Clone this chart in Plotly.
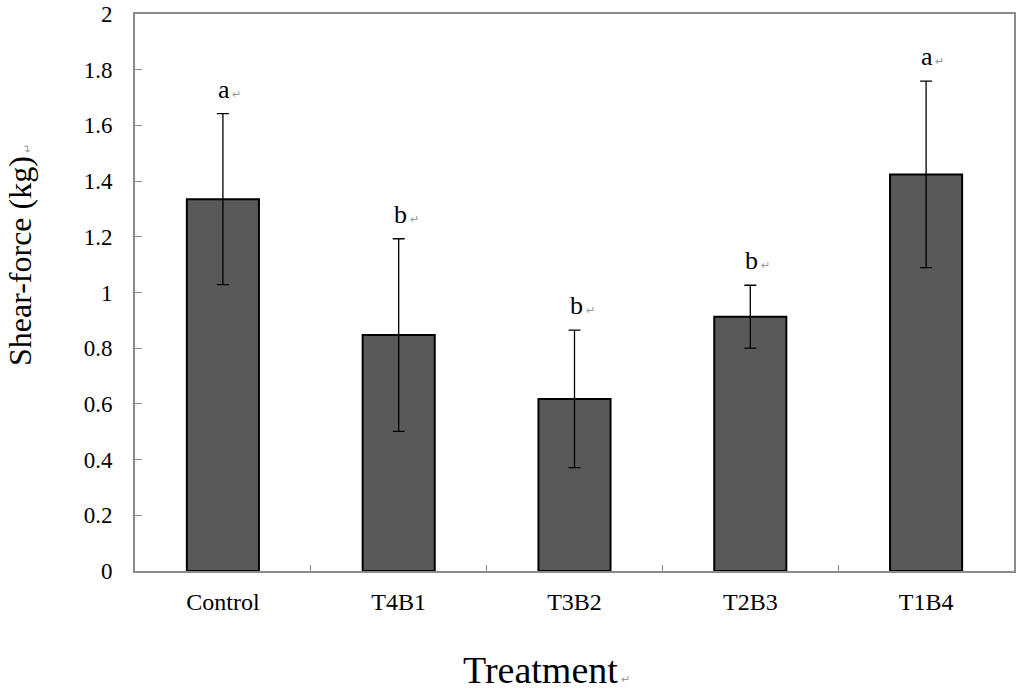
import plotly.graph_objects as go

categories = ["Control", "T4B1", "T3B2", "T2B3", "T1B4"]
means = [1.335, 0.847, 0.618, 0.913, 1.424]
errors = [0.307, 0.346, 0.247, 0.113, 0.335]
letters = ["a", "b", "b", "b", "a"]
y_ticks = [0, 0.2, 0.4, 0.6, 0.8, 1, 1.2, 1.4, 1.6, 1.8, 2]
y_ticktext = ["0", "0.2", "0.4", "0.6", "0.8", "1", "1.2", "1.4", "1.6", "1.8", "2"]

SERIF = "Liberation Serif"
RET = "<span style='font-size:11px;color:#9a9a9a'> \u21b5</span>"

fig = go.Figure()
fig.add_trace(go.Bar(
    x=categories, y=means, width=0.41,
    marker=dict(color="#595959", line=dict(color="#000000", width=2)),
    error_y=dict(type="data", array=errors, visible=True,
                 color="#000000", thickness=1.3, width=6),
    showlegend=False,
))

for c, m, e, l in zip(categories, means, errors, letters):
    fig.add_annotation(
        x=c, y=m + e, xref="x", yref="y",
        text=l + RET, showarrow=False,
        xanchor="left", yanchor="bottom", xshift=-7, yshift=8,
        font=dict(family=SERIF, size=26, color="#000000"),
    )

fig.add_annotation(
    x=-0.131, y=0.567, xref="paper", yref="paper",
    text="Shear-force (kg)" + RET, textangle=-90, showarrow=False,
    xanchor="center", yanchor="middle",
    font=dict(family=SERIF, size=32, color="#000000"),
)
fig.add_annotation(
    x=0.4676, y=-0.178, xref="paper", yref="paper",
    text="Treatment" + RET, showarrow=False,
    xanchor="center", yanchor="middle",
    font=dict(family=SERIF, size=38, color="#000000"),
)

fig.update_layout(
    width=1022, height=689,
    margin=dict(l=135, r=8, t=14, b=118, pad=0),
    paper_bgcolor="white", plot_bgcolor="white",
    font=dict(family=SERIF, color="#000000"),
    bargap=0.59,
)
fig.update_xaxes(
    automargin=False,
    showline=True, linecolor="#8c8c8c", linewidth=2, mirror=True,
    ticks="inside", tickson="boundaries", ticklen=6, tickcolor="#8c8c8c",
    tickfont=dict(family=SERIF, size=24, color="#000000"),
    ticklabelstandoff=8, showgrid=False,
)
fig.update_yaxes(
    automargin=False,
    range=[0, 2], tickvals=y_ticks, ticktext=y_ticktext,
    showline=True, linecolor="#8c8c8c", linewidth=2, mirror=True,
    ticks="inside", ticklen=7, tickcolor="#8c8c8c",
    tickfont=dict(family=SERIF, size=23, color="#000000"),
    ticklabelstandoff=16, showgrid=False, zeroline=False,
)

fig.write_html(
    "out.html",
    config={"displayModeBar": False},
    post_script="document.body.style.margin='0';document.body.style.overflow='hidden';",
)
